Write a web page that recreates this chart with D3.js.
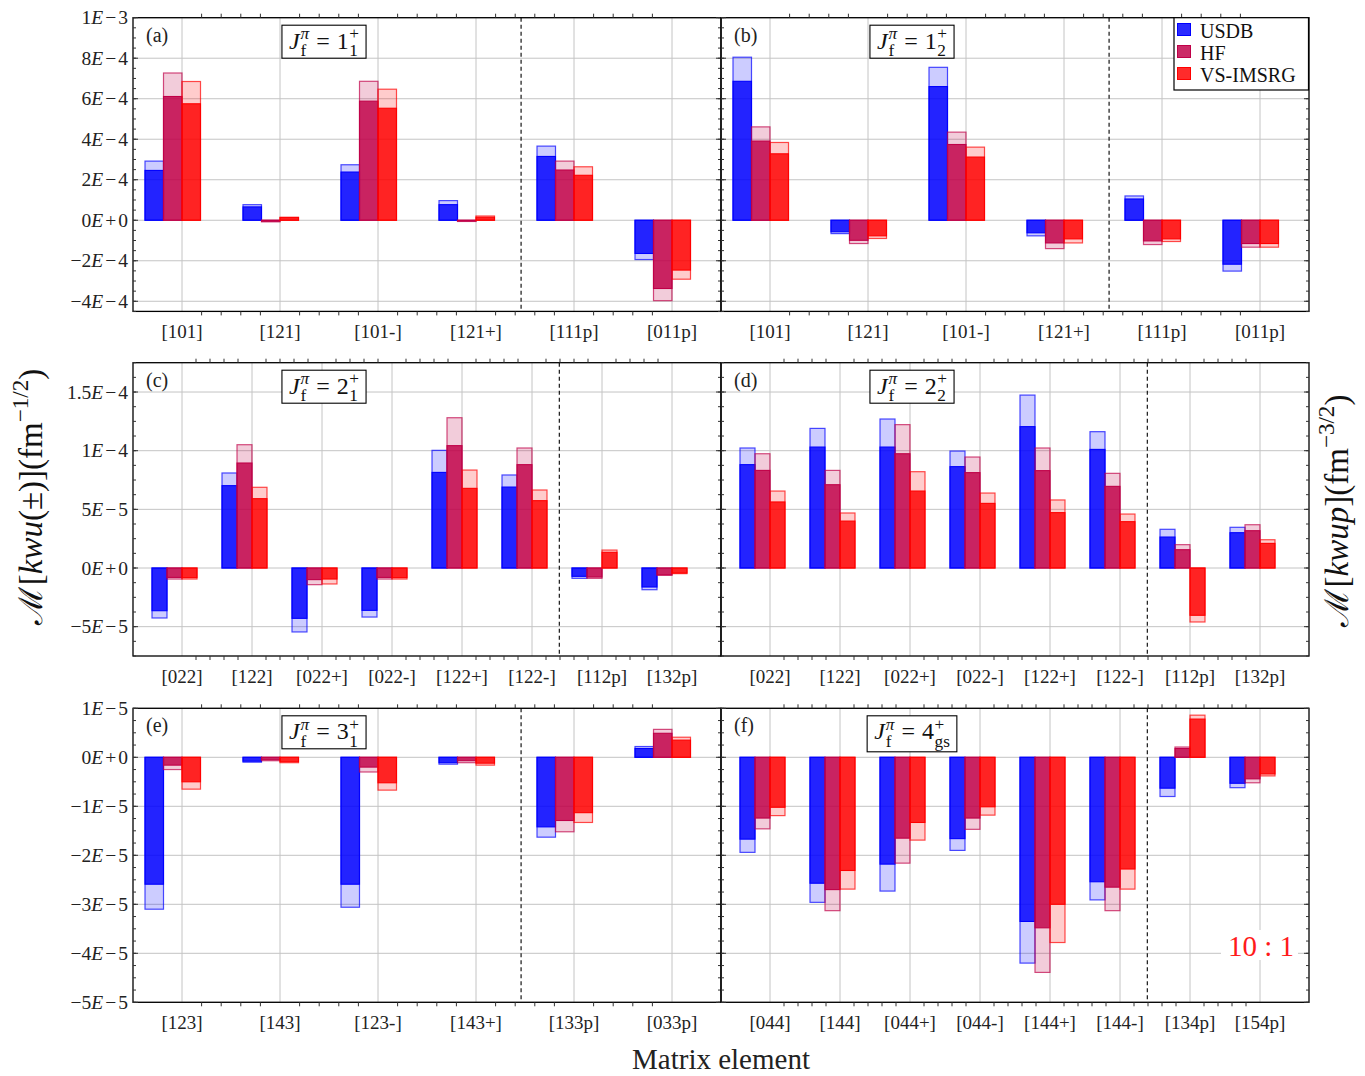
<!DOCTYPE html>
<html>
<head>
<meta charset="utf-8">
<script src="https://cdn.jsdelivr.net/npm/d3@7"></script>
<style>
  body { margin: 0; background: #fff; }
  svg { display: block; }
</style>
</head>
<body>
<svg id="fig" width="1365" height="1076"></svg>
<script>
// ---- matrix-element categories ----
const catsA = ["[101]", "[121]", "[101-]", "[121+]", "[111p]", "[011p]"];
const catsB = ["[101]", "[121]", "[101-]", "[121+]", "[111p]", "[011p]"];
const catsC = ["[022]", "[122]", "[022+]", "[022-]", "[122+]", "[122-]", "[112p]", "[132p]"];
const catsD = ["[022]", "[122]", "[022+]", "[022-]", "[122+]", "[122-]", "[112p]", "[132p]"];
const catsE = ["[123]", "[143]", "[123-]", "[143+]", "[133p]", "[033p]"];
const catsF = ["[044]", "[144]", "[044+]", "[044-]", "[144+]", "[144-]", "[134p]", "[154p]"];

const seriesNames = ["USDB", "HF", "VS-IMSRG"];

// ---- values: full bar (pale extension) and core bar (solid) ----
// (a) Jf = 1_1+
const usdbA     = [2.92e-4, 0.77e-4, 2.74e-4, 0.97e-4, 3.66e-4, -1.94e-4];
const usdbCoreA = [2.46e-4, 0.66e-4, 2.38e-4, 0.77e-4, 3.15e-4, -1.64e-4];
const hfA       = [7.27e-4, -0.08e-4, 6.86e-4, -0.06e-4, 2.92e-4, -3.97e-4];
const hfCoreA   = [6.11e-4, -0.05e-4, 5.88e-4, -0.04e-4, 2.48e-4, -3.37e-4];
const vsA       = [6.85e-4, 0.15e-4, 6.47e-4, 0.21e-4, 2.64e-4, -2.91e-4];
const vsCoreA   = [5.75e-4, 0.13e-4, 5.53e-4, 0.15e-4, 2.22e-4, -2.46e-4];
// (b) Jf = 1_2+
const usdbB     = [8.05e-4, -0.66e-4, 7.55e-4, -0.77e-4, 1.20e-4, -2.51e-4];
const usdbCoreB = [6.86e-4, -0.57e-4, 6.60e-4, -0.62e-4, 1.05e-4, -2.17e-4];
const hfB       = [4.61e-4, -1.15e-4, 4.35e-4, -1.40e-4, -1.20e-4, -1.33e-4];
const hfCoreB   = [3.91e-4, -0.99e-4, 3.74e-4, -1.12e-4, -1.02e-4, -1.15e-4];
const vsB       = [3.84e-4, -0.90e-4, 3.61e-4, -1.12e-4, -1.05e-4, -1.33e-4];
const vsCoreB   = [3.28e-4, -0.77e-4, 3.12e-4, -0.92e-4, -0.92e-4, -1.15e-4];
// (c) Jf = 2_1+
const usdbC     = [-4.26e-5, 8.10e-5, -5.45e-5, -4.18e-5, 10.03e-5, 7.93e-5, -0.88e-5, -1.85e-5];
const usdbCoreC = [-3.64e-5, 7.02e-5, -4.29e-5, -3.61e-5, 8.15e-5, 6.90e-5, -0.71e-5, -1.62e-5];
const hfC       = [-0.94e-5, 10.51e-5, -1.42e-5, -0.94e-5, 12.81e-5, 10.23e-5, -0.88e-5, -0.63e-5];
const hfCoreC   = [-0.80e-5, 8.95e-5, -0.99e-5, -0.80e-5, 10.43e-5, 8.81e-5, -0.77e-5, -0.57e-5];
const vsC       = [-0.94e-5, 6.88e-5, -1.36e-5, -0.94e-5, 8.35e-5, 6.65e-5, 1.53e-5, -0.48e-5];
const vsCoreC   = [-0.82e-5, 5.91e-5, -0.94e-5, -0.82e-5, 6.79e-5, 5.74e-5, 1.34e-5, -0.43e-5];
// (d) Jf = 2_2+
const usdbD     = [10.23e-5, 11.90e-5, 12.70e-5, 9.97e-5, 14.74e-5, 11.62e-5, 3.30e-5, 3.47e-5];
const usdbCoreD = [8.81e-5, 10.31e-5, 10.31e-5, 8.64e-5, 12.05e-5, 10.11e-5, 2.64e-5, 3.01e-5];
const hfD       = [9.74e-5, 8.32e-5, 12.22e-5, 9.46e-5, 10.23e-5, 8.07e-5, 1.99e-5, 3.69e-5];
const hfCoreD   = [8.32e-5, 7.10e-5, 9.74e-5, 8.13e-5, 8.30e-5, 6.96e-5, 1.56e-5, 3.18e-5];
const vsD       = [6.56e-5, 4.69e-5, 8.21e-5, 6.39e-5, 5.80e-5, 4.60e-5, -4.60e-5, 2.41e-5];
const vsCoreD   = [5.63e-5, 4.00e-5, 6.56e-5, 5.51e-5, 4.72e-5, 3.95e-5, -4.03e-5, 2.10e-5];
// (e) Jf = 3_1+
const usdbE     = [-3.10e-5, -0.10e-5, -3.06e-5, -0.14e-5, -1.63e-5, 0.22e-5];
const usdbCoreE = [-2.59e-5, -0.08e-5, -2.59e-5, -0.11e-5, -1.42e-5, 0.18e-5];
const hfE       = [-0.25e-5, -0.07e-5, -0.30e-5, -0.11e-5, -1.52e-5, 0.57e-5];
const hfCoreE   = [-0.16e-5, -0.05e-5, -0.20e-5, -0.07e-5, -1.29e-5, 0.49e-5];
const vsE       = [-0.65e-5, -0.11e-5, -0.67e-5, -0.16e-5, -1.33e-5, 0.41e-5];
const vsCoreE   = [-0.50e-5, -0.09e-5, -0.52e-5, -0.12e-5, -1.13e-5, 0.35e-5];
// (f) Jf = 4_gs+
const usdbF     = [-1.94e-5, -2.96e-5, -2.73e-5, -1.90e-5, -4.20e-5, -2.91e-5, -0.80e-5, -0.62e-5];
const usdbCoreF = [-1.67e-5, -2.57e-5, -2.18e-5, -1.66e-5, -3.35e-5, -2.54e-5, -0.63e-5, -0.53e-5];
const hfF       = [-1.46e-5, -3.13e-5, -2.16e-5, -1.47e-5, -4.39e-5, -3.13e-5, 0.21e-5, -0.52e-5];
const hfCoreF   = [-1.24e-5, -2.70e-5, -1.65e-5, -1.24e-5, -3.48e-5, -2.65e-5, 0.18e-5, -0.44e-5];
const vsF       = [-1.19e-5, -2.69e-5, -1.69e-5, -1.18e-5, -3.78e-5, -2.69e-5, 0.86e-5, -0.38e-5];
const vsCoreF   = [-1.02e-5, -2.31e-5, -1.33e-5, -1.01e-5, -3.00e-5, -2.28e-5, 0.78e-5, -0.34e-5];

// ---- axis ticks per row ----
const domainRow1 = [-4.5e-4, 1e-3];
const ticksRow1  = [-4e-4, -2e-4, 0, 2e-4, 4e-4, 6e-4, 8e-4, 1e-3];
const labelsRow1 = ["−4E−4", "−2E−4", "0E+0", "2E−4", "4E−4", "6E−4", "8E−4", "1E−3"];
const domainRow2 = [-7.5e-5, 1.75e-4];
const ticksRow2  = [-5e-5, 0, 5e-5, 1e-4, 1.5e-4];
const labelsRow2 = ["−5E−5", "0E+0", "5E−5", "1E−4", "1.5E−4"];
const domainRow3 = [-5e-5, 1e-5];
const ticksRow3  = [-5e-5, -4e-5, -3e-5, -2e-5, -1e-5, 0, 1e-5];
const labelsRow3 = ["−5E−5", "−4E−5", "−3E−5", "−2E−5", "−1E−5", "0E+0", "1E−5"];

// ---- final-state labels ----
const panelTags  = ["(a)", "(b)", "(c)", "(d)", "(e)", "(f)"];
const stateSpins = ["1", "1", "2", "2", "3", "4"];
const stateIdx   = ["1", "2", "1", "2", "1", "gs"];

// ---- styling ----
const FONT = "'Liberation Serif', 'DejaVu Serif', serif";
const colors = [
  { base: "rgb(0,0,255)",   core: "rgba(0,0,255,0.83)",   pale: "rgba(0,0,255,0.2)" },
  { base: "rgb(192,0,72)",  core: "rgba(192,0,72,0.83)",  pale: "rgba(192,0,72,0.2)" },
  { base: "rgb(255,0,0)",   core: "rgba(255,0,0,0.83)",   pale: "rgba(255,0,0,0.2)" }
];
const gridColor = "#c4c4c4";

const svg = d3.select("#fig").style("font-family", FONT);

const cols = [[133, 721], [721, 1309]];
const rows = [
  { y: [17.7, 311.4], domain: domainRow1, ticks: ticksRow1, labels: labelsRow1, minor: 5e-5 },
  { y: [362.7, 656],  domain: domainRow2, ticks: ticksRow2, labels: labelsRow2, minor: 1.25e-5 },
  { y: [708.3, 1002.3], domain: domainRow3, ticks: ticksRow3, labels: labelsRow3, minor: 2.5e-6 }
];

const panels = [
  { col: 0, row: 0, cats: catsA, full: [usdbA, hfA, vsA], core: [usdbCoreA, hfCoreA, vsCoreA] },
  { col: 1, row: 0, cats: catsB, full: [usdbB, hfB, vsB], core: [usdbCoreB, hfCoreB, vsCoreB] },
  { col: 0, row: 1, cats: catsC, full: [usdbC, hfC, vsC], core: [usdbCoreC, hfCoreC, vsCoreC] },
  { col: 1, row: 1, cats: catsD, full: [usdbD, hfD, vsD], core: [usdbCoreD, hfCoreD, vsCoreD] },
  { col: 0, row: 2, cats: catsE, full: [usdbE, hfE, vsE], core: [usdbCoreE, hfCoreE, vsCoreE] },
  { col: 1, row: 2, cats: catsF, full: [usdbF, hfF, vsF], core: [usdbCoreF, hfCoreF, vsCoreF] }
];

// lays out a run of math-like text pieces left to right; returns group and width
function mathRun(parent, pieces, size) {
  const g = parent.append("g");
  let x = 0;
  for (const p of pieces) {
    x += p.pre || 0;
    if (p.stack) {
      let w = 0;
      for (const s of p.stack) {
        const t = g.append("text")
          .attr("x", x).attr("y", s.dy * size)
          .attr("font-size", size * s.scale)
          .attr("font-style", s.italic ? "italic" : "normal")
          .text(s.t);
        w = Math.max(w, t.node().getComputedTextLength());
      }
      x += w;
    } else {
      const t = g.append("text")
        .attr("x", x).attr("y", (p.dy || 0) * size)
        .attr("font-size", size * (p.scale || 1))
        .attr("font-style", p.italic ? "italic" : "normal")
        .text(p.t);
      x += t.node().getComputedTextLength();
    }
    x += p.after || 0;
  }
  return { g, width: x };
}

// tick label like "−4E−4" with italic E
function sciLabel(sel, str) {
  const [m, e] = str.split("E");
  sel.append("tspan").text(m);
  sel.append("tspan").attr("font-style", "italic").text("E");
  const sign = e[0], rest = e.slice(1);
  sel.append("tspan").attr("dx", 2).text(sign);
  sel.append("tspan").attr("dx", 2).text(rest);
}

const gridLayer = svg.append("g");
const barLayer = svg.append("g");
const axisLayer = svg.append("g");

panels.forEach((p, pi) => {
  const [x0, x1] = cols[p.col];
  const R = rows[p.row];
  const [y0, y1] = R.y;
  const x = d3.scalePoint().domain(p.cats).range([x0 + 49, x1 - 49]);
  const y = d3.scaleLinear().domain(R.domain).range([y1, y0]);
  const step = x.step();
  const bw = p.cats.length === 6 ? 18.5 : 15;

  // grid
  gridLayer.append("g").selectAll("line").data(R.ticks).join("line")
    .attr("x1", x0).attr("x2", x1)
    .attr("y1", d => y(d)).attr("y2", d => y(d))
    .attr("stroke", gridColor).attr("stroke-width", 1);
  gridLayer.append("g").selectAll("line").data(p.cats).join("line")
    .attr("x1", d => x(d)).attr("x2", d => x(d))
    .attr("y1", y0).attr("y2", y1)
    .attr("stroke", gridColor).attr("stroke-width", 1);

  // bars: pale full bar, solid core bar on top
  const bg = barLayer.append("g");
  p.full.forEach((vals, k) => {
    const c = colors[k];
    const xoff = (k - 2) * bw;
    bg.append("g").selectAll("rect").data(vals).join("rect")
      .attr("x", (d, i) => x(p.cats[i]) + xoff)
      .attr("width", bw)
      .attr("y", d => Math.min(y(d), y(0)))
      .attr("height", d => Math.abs(y(d) - y(0)))
      .attr("fill", c.pale).attr("stroke", c.base)
      .attr("stroke-opacity", 0.7).attr("stroke-width", 1.2);
    bg.append("g").selectAll("rect").data(p.core[k]).join("rect")
      .attr("x", (d, i) => x(p.cats[i]) + xoff)
      .attr("width", bw)
      .attr("y", d => Math.min(y(d), y(0)))
      .attr("height", d => Math.abs(y(d) - y(0)))
      .attr("fill", c.core).attr("stroke", c.base)
      .attr("stroke-width", 1.1);
  });

  // dashed divider between the two groups of elements
  const divAt = p.cats.length === 6 ? 3.46 : 5.39;
  const xd = x(p.cats[0]) + divAt * step;
  axisLayer.append("line")
    .attr("x1", xd).attr("x2", xd).attr("y1", y0).attr("y2", y1)
    .attr("stroke", "#000").attr("stroke-width", 1.1)
    .attr("stroke-dasharray", "4,3");

  // frame
  axisLayer.append("rect")
    .attr("x", x0).attr("y", y0).attr("width", x1 - x0).attr("height", y1 - y0)
    .attr("fill", "none").attr("stroke", "#000").attr("stroke-width", 1.3);

  // y ticks (inward on both sides)
  const minorY = d3.range(R.domain[0], R.domain[1] + R.minor / 2, R.minor);
  const tg = axisLayer.append("g").attr("stroke", "#333").attr("stroke-width", 1);
  [[x0, 1], [x1, -1]].forEach(([xe, dir]) => {
    tg.append("g").selectAll("line").data(minorY).join("line")
      .attr("x1", xe).attr("x2", xe + dir * 3)
      .attr("y1", d => y(d)).attr("y2", d => y(d));
    tg.append("g").selectAll("line").data(R.ticks).join("line")
      .attr("x1", xe).attr("x2", xe + dir * 5)
      .attr("y1", d => y(d)).attr("y2", d => y(d));
  });

  // x minor ticks (outward top and bottom), four between neighbouring categories
  const minorX = [];
  for (let i = 0; i < p.cats.length - 1; i++)
    for (let j = 1; j < 5; j++) minorX.push(x(p.cats[i]) + step * j / 5);
  [[y0, -1], [y1, 1]].forEach(([ye, dir]) => {
    tg.append("g").selectAll("line").data(minorX).join("line")
      .attr("x1", d => d).attr("x2", d => d)
      .attr("y1", ye).attr("y2", ye + dir * 4);
  });

  // category labels
  axisLayer.append("g").selectAll("text").data(p.cats).join("text")
    .attr("x", d => x(d)).attr("y", y1 + 27)
    .attr("text-anchor", "middle").attr("font-size", 19).attr("fill", "#222")
    .text(d => d);

  // y tick labels on the left column only
  if (p.col === 0) {
    axisLayer.append("g").selectAll("text").data(R.ticks).join("text")
      .attr("x", x0 - 5).attr("y", d => y(d) + 6.5)
      .attr("text-anchor", "end").attr("font-size", 19.5).attr("fill", "#222")
      .each(function (d, i) { sciLabel(d3.select(this), R.labels[i]); });
  }

  // panel tag
  axisLayer.append("text").attr("x", x0 + 13).attr("y", y0 + 24)
    .attr("font-size", 20).attr("fill", "#222").text(panelTags[pi]);

  // final-state box
  const box = axisLayer.append("g");
  const boxRect = box.append("rect").attr("fill", "#fff").attr("stroke", "#000").attr("stroke-width", 1.1);
  const run = mathRun(box, [
    { t: "J", italic: true, after: 1 },
    { stack: [{ t: "π", dy: -0.4, scale: 0.72, italic: true }, { t: "f", dy: 0.32, scale: 0.72 }], after: 7 },
    { t: "=", after: 7 },
    { t: stateSpins[pi], after: 0.5 },
    { stack: [{ t: "+", dy: -0.4, scale: 0.72 }, { t: stateIdx[pi], dy: 0.32, scale: 0.72 }] }
  ], 24);
  const cx = x0 + 191, cy = y0 + 24;
  run.g.attr("transform", `translate(${cx - run.width / 2},${cy + 7})`);
  boxRect.attr("x", cx - run.width / 2 - 7).attr("y", y0 + 7.5)
    .attr("width", run.width + 14).attr("height", pi === 5 ? 36 : 33);
});

// legend in panel (b)
const lg = axisLayer.append("g");
lg.append("rect").attr("x", 1174).attr("y", 17.7).attr("width", 134.5).attr("height", 72.3)
  .attr("fill", "#fff").attr("stroke", "#000").attr("stroke-width", 1.2);
seriesNames.forEach((name, k) => {
  const yy = 23.5 + k * 22;
  lg.append("rect").attr("x", 1177.5).attr("y", yy).attr("width", 13).attr("height", 12)
    .attr("fill", colors[k].core).attr("stroke", colors[k].base).attr("stroke-width", 1);
  lg.append("text").attr("x", 1200).attr("y", yy + 14).attr("font-size", 20).attr("fill", "#111").text(name);
});

// scale note
const note = axisLayer.append("g");
note.append("rect").attr("x", 1221).attr("y", 930).attr("width", 77).attr("height", 30).attr("fill", "#fff");
note.append("text").attr("x", 1294).attr("y", 956).attr("text-anchor", "end")
  .attr("font-size", 29).attr("fill", "#ff1a1a").text("10 : 1");

// axis titles
svg.append("text").attr("x", 721).attr("y", 1069).attr("text-anchor", "middle")
  .attr("font-size", 29).attr("fill", "#222").text("Matrix element");

const leftTitle = svg.append("g");
const lt = mathRun(leftTitle, [
  { t: "ℳ", after: 2 }, { t: "[" }, { t: "kwu", italic: true }, { t: "(±)](fm" },
  { t: "−1/2", dy: -0.42, scale: 0.7 }, { t: ")" }
], 33);
lt.g.attr("transform", `translate(${42},${497 + lt.width / 2}) rotate(-90)`);

const rightTitle = svg.append("g");
const rt = mathRun(rightTitle, [
  { t: "ℳ", after: 2 }, { t: "[" }, { t: "kwup", italic: true }, { t: "](fm" },
  { t: "−3/2", dy: -0.42, scale: 0.7 }, { t: ")" }
], 33);
rt.g.attr("transform", `translate(${1348},${511 + rt.width / 2}) rotate(-90)`);
svg.selectAll("text").filter(function () { return !this.getAttribute("fill"); }).attr("fill", "#111");
</script>
</body>
</html>
